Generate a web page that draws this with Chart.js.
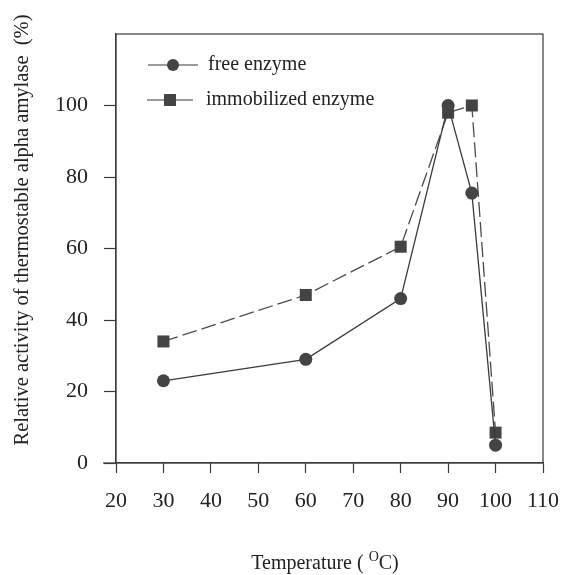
<!DOCTYPE html>
<html lang="en">
<head>
  <meta charset="UTF-8" />
  <title>Relative activity vs temperature</title>
  <script src="https://cdn.jsdelivr.net/npm/chart.js"></script>
  <style>
    body { margin: 0; padding: 0; background: #fff; }
    .wrap { width: 562px; height: 575px; }
  </style>
</head>
<body>
  <div class="wrap"><canvas id="chart" width="562" height="575"></canvas></div>
  <script>
    // data
    const temps = [30, 60, 80, 90, 95, 100];
    const freeEnzyme = [23, 29, 46, 100, 75.5, 5];
    const immobilizedEnzyme = [34, 47, 60.5, 98, 100, 8.5];
    const seriesNames = ['free enzyme', 'immobilized enzyme'];
    const xTicks = [20, 30, 40, 50, 60, 70, 80, 90, 100, 110];
    const yTicks = [0, 20, 40, 60, 80, 100];
    const yTitle = 'Relative activity of thermostable alpha amylase  (%)';

    const ink = '#3a3a3a';
    const serif = "'Liberation Serif', 'Times New Roman', serif";

    const toPoints = (ys) => temps.map((t, i) => ({ x: t, y: ys[i] }));

    // frame, legend inside the plot, axis titles
    const decor = {
      id: 'decor',
      afterDraw(chart) {
        const { ctx, chartArea: a } = chart;
        ctx.save();
        ctx.strokeStyle = ink;
        ctx.lineWidth = 1.2;
        ctx.strokeRect(a.left, a.top, a.right - a.left, a.bottom - a.top);
        // x axis line runs a little past the y axis, as in the print
        ctx.beginPath();
        ctx.moveTo(a.left - 13, a.bottom);
        ctx.lineTo(a.left, a.bottom);
        ctx.stroke();

        // legend
        const items = [
          { y: 65, x0: 148, x1: 198, style: 'circle', label: seriesNames[0], tx: 208 },
          { y: 100, x0: 147, x1: 193, style: 'rect', label: seriesNames[1], tx: 206 }
        ];
        items.forEach(it => {
          ctx.strokeStyle = ink;
          ctx.beginPath();
          ctx.moveTo(it.x0, it.y);
          ctx.lineTo(it.x1, it.y);
          ctx.stroke();
          ctx.fillStyle = '#444';
          const cx = (it.x0 + it.x1) / 2;
          if (it.style === 'circle') {
            ctx.beginPath();
            ctx.arc(cx, it.y, 6, 0, Math.PI * 2);
            ctx.fill();
          } else {
            ctx.fillRect(cx - 6, it.y - 6, 12, 12);
          }
          ctx.fillStyle = '#222';
          ctx.font = '20px ' + serif;
          ctx.textBaseline = 'middle';
          ctx.textAlign = 'left';
          ctx.fillText(it.label, it.tx, it.y);
        });

        // y axis title
        ctx.save();
        ctx.translate(23, 230);
        ctx.rotate(-Math.PI / 2);
        ctx.font = '20.5px ' + serif;
        ctx.textAlign = 'center';
        ctx.textBaseline = 'middle';
        ctx.fillStyle = '#222';
        ctx.fillText(yTitle, 0, 0);
        ctx.restore();

        // x axis title with superscript O
        ctx.fillStyle = '#222';
        ctx.textAlign = 'left';
        ctx.textBaseline = 'alphabetic';
        const p1 = 'Temperature ( ', p3 = 'C)';
        ctx.font = '20px ' + serif;
        const w1 = ctx.measureText(p1).width, w3 = ctx.measureText(p3).width;
        ctx.font = '14px ' + serif;
        const w2 = ctx.measureText('O').width;
        let x = 325 - (w1 + w2 + w3) / 2;
        const base = 569;
        ctx.font = '20px ' + serif;
        ctx.fillText(p1, x, base); x += w1;
        ctx.font = '14px ' + serif;
        ctx.fillText('O', x, base - 8); x += w2;
        ctx.font = '20px ' + serif;
        ctx.fillText(p3, x, base);
        ctx.restore();
      }
    };

    new Chart(document.getElementById('chart'), {
      type: 'line',
      data: {
        datasets: [
          {
            label: seriesNames[0],
            data: toPoints(freeEnzyme),
            borderColor: ink,
            backgroundColor: '#444',
            borderWidth: 1.3,
            pointStyle: 'circle',
            pointRadius: 6.5,
            pointBorderWidth: 0,
            tension: 0
          },
          {
            label: seriesNames[1],
            data: toPoints(immobilizedEnzyme),
            borderColor: '#4a4a4a',
            backgroundColor: '#444',
            borderWidth: 1.3,
            borderDash: [15, 5],
            pointStyle: 'rect',
            pointRadius: 8.5,
            pointBorderWidth: 0,
            tension: 0
          }
        ]
      },
      options: {
        responsive: false,
        animation: false,
        layout: { padding: { top: 34, right: 19, left: 0, bottom: 0 } },
        plugins: { legend: { display: false }, tooltip: { enabled: false } },
        scales: {
          x: {
            type: 'linear',
            min: 20, max: 110,
            afterFit: (s) => { s.height = 112; s.paddingLeft = 0; s.paddingRight = 0; },
            afterBuildTicks: (s) => { s.ticks = xTicks.map(v => ({ value: v })); },
            ticks: { color: '#222', font: { family: serif, size: 22 }, padding: 15, maxRotation: 0 },
            grid: { drawOnChartArea: false, tickLength: 10, color: ink, tickWidth: 1.2 },
            border: { color: ink, width: 1.2 }
          },
          y: {
            min: 0, max: 120,
            afterFit: (s) => { s.width = 116; s.paddingTop = 0; s.paddingBottom = 0; },
            afterBuildTicks: (s) => { s.ticks = yTicks.map(v => ({ value: v })); },
            ticks: { color: '#222', font: { family: serif, size: 22 }, padding: 16 },
            grid: { drawOnChartArea: false, tickLength: 12, color: ink, tickWidth: 1.2 },
            border: { color: ink, width: 1.2 }
          }
        }
      },
      plugins: [decor]
    });
  </script>
</body>
</html>
